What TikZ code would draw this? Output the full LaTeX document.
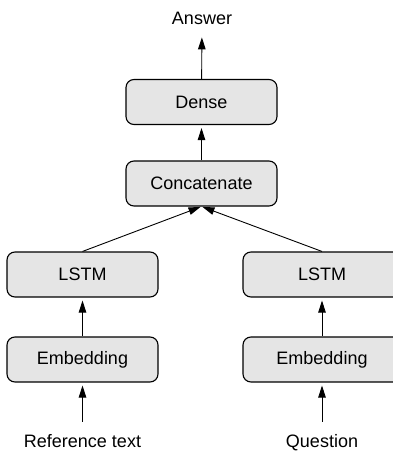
\documentclass[tikz,border=0pt]{standalone}
\usepackage{fontspec}
\setmainfont{Liberation Sans}
\usetikzlibrary{arrows.meta}
\tikzset{
  layer/.style = {draw, rounded corners=8pt, fill=black!10, line width=1.1pt,
                  minimum width=151pt, minimum height=45pt,
                  font=\fontsize{18}{21}\selectfont},
  io/.style    = {font=\fontsize{18}{21}\selectfont, inner sep=2pt, anchor=base},
  ar/.style    = {-{Triangle[length=12pt, width=7.5pt]}, line width=0.9pt},
}
\begin{document}
\begin{tikzpicture}[x=1pt, y=-1pt]
  \useasboundingbox (0,0) rectangle (392,452);
  % output side
  \node[io] (answer) at (202,25) {Answer};
  \node[layer] (dense) at (201.5,102) {Dense};
  \node[layer] (concat) at (201.5,183.5) {Concatenate};
  % reference text branch
  \node[layer] (lstmA) at (82.5,274.5) {LSTM};
  \node[layer] (embA) at (82.5,359.5) {Embedding};
  \node[io] (ref) at (82.5,447) {Reference text};
  % question branch
  \node[layer, minimum width=158pt] (lstmB) at (322,274.5) {LSTM};
  \node[layer, minimum width=158pt] (embB) at (322,359.5) {Embedding};
  \node[io] (quest) at (322,447) {Question};
  % arrows
  \draw[ar, shorten <=10pt, shorten >=3pt] (ref) -- (embA);
  \draw[ar, shorten <=10pt, shorten >=3pt] (quest) -- (embB);
  \draw[ar, shorten >=3pt] (embA) -- (lstmA);
  \draw[ar, shorten >=3pt] (embB) -- (lstmB);
  \draw[ar, shorten >=1pt] (lstmA.north) -- (concat.south);
  \draw[ar, shorten >=1pt] (lstmB.north) -- (concat.south);
  \draw[ar, shorten >=3pt] (concat) -- (dense);
  \draw[ar, shorten >=10pt] (dense) -- (answer);
\end{tikzpicture}
\end{document}
